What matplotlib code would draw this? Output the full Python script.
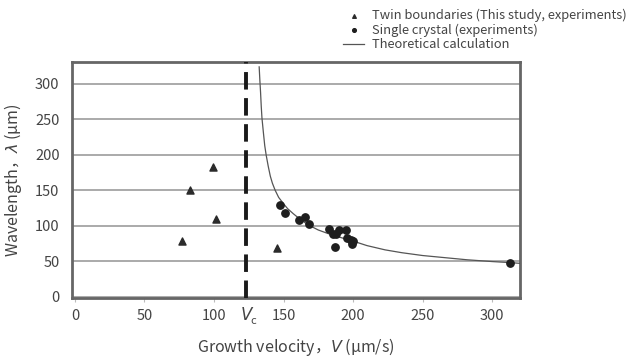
import numpy as np
import matplotlib
matplotlib.use('Agg')
import matplotlib.pyplot as plt

plt.rcParams['font.family'] = ['Noto Sans CJK JP', 'DejaVu Sans']

# twin boundaries (this study)
twin_v = [77, 82.5, 99.5, 101.5, 145.5]
twin_lam = [78, 151, 183, 109, 68]

# single crystal
single_v = [147.2, 150.8, 161.2, 165.2, 168.1, 182.7, 185.6, 188, 189.7, 194.7,
            195.7, 198.3, 200, 199.3, 186.8, 313]
single_lam = [128.8, 118.4, 107.5, 112, 102, 94.8, 88.7, 88.7, 94.4, 93.4,
              82.5, 80.2, 78, 73.6, 69.8, 47]

# theoretical curve
theory_v = [132.5, 133, 133.5, 134, 134.5, 135.5, 136.5, 137.5, 139, 140.5,
            142, 144, 146.5, 150, 153, 157, 162, 168, 175, 182,
            190, 199, 210, 223, 235, 250, 266, 282, 300, 313, 320]
theory_lam = [324, 305, 288, 268, 252, 232, 213, 200, 184, 170,
              160, 150, 140, 131, 124, 117, 109, 101, 94, 89,
              84, 79, 72, 66, 62, 58, 55, 52, 49.5, 48, 47]

vc = 123
xticks = [0, 50, 100, 150, 200, 250, 300]
yticks = [0, 50, 100, 150, 200, 250, 300]

txt = '#444444'

fig = plt.figure(figsize=(6.38, 3.6), dpi=100)
ax = fig.add_axes([0.113, 0.172, 0.702, 0.656])

ax.set_xlim(-2, 320)
ax.set_ylim(-2, 331)
ax.set_xticks(xticks)
ax.set_yticks(yticks)
ax.yaxis.grid(True, color='#aaaaaa', lw=1.4)
ax.set_axisbelow(True)
for s in ax.spines.values():
    s.set_color('#666666')
    s.set_linewidth(2)
ax.tick_params(axis='y', length=0, pad=9, labelsize=10.5, labelcolor=txt)
ax.tick_params(axis='x', length=3, color='#bbbbbb', pad=5, labelsize=10.5, labelcolor=txt)

ax.plot(theory_v, theory_lam, color='#555555', lw=0.9, label='Theoretical calculation',
        zorder=3, solid_joinstyle='round')
ax.scatter(twin_v, twin_lam, marker='^', s=26, color='#2b2b2b', zorder=4,
           label='Twin boundaries (This study, experiments)')
ax.scatter(single_v, single_lam, marker='o', s=28, color='#1e1e1e', zorder=4,
           label='Single crystal (experiments)')
ax.axvline(vc, color='#1a1a1a', lw=2.8, dashes=(4.5, 2.2), zorder=5)

ax.text(vc, -0.035, 'V', transform=ax.get_xaxis_transform(), ha='center', va='top',
        fontsize=12, style='italic', color=txt, family='DejaVu Sans')
ax.text(vc + 3.5, -0.075, 'c', transform=ax.get_xaxis_transform(), ha='left', va='top',
        fontsize=8, color=txt)

ax.set_ylabel('Wavelength，$\\mathit{\\lambda}$ (μm)', fontsize=11.5, color=txt, labelpad=8)
ax.set_xlabel('Growth velocity，$\\mathit{V}$ (μm/s)', fontsize=11.5, color=txt, labelpad=9)

h, l = ax.get_legend_handles_labels()
order = [1, 2, 0]
fig.legend([h[i] for i in order], [l[i] for i in order], loc='upper left',
           bbox_to_anchor=(0.52, 1.008), frameon=False, fontsize=9.3,
           labelcolor=txt, handlelength=1.6, handletextpad=0.6,
           labelspacing=0.12, markerscale=0.5)

fig.savefig('out.png', dpi=100)
